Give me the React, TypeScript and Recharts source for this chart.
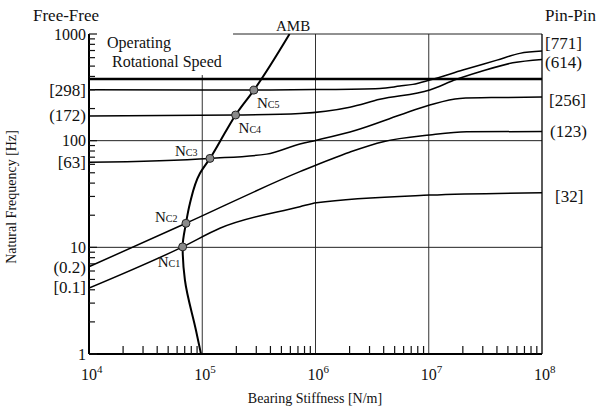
import React from 'react';
import { ComposedChart, Line, Scatter, XAxis, YAxis, ReferenceLine } from 'recharts';

const FONT = 'Liberation Serif, Times New Roman, serif';

// 곡선 데이터: 베어링 강성 [N/m] vs 고유진동수 [Hz]
const modeAStiff = [1e4, 1e5, 2.86e5, 1e6, 3.7e6, 5.56e6, 7.24e6, 1.02e7, 2e7, 4e7, 6.37e7, 1e8];
const modeAFreq = [300, 299, 298, 301, 309, 325, 337, 370, 459, 569, 658, 691];

const modeBStiff = [1e4, 1.97e5, 7.28e5, 2.01e6, 3.7e6, 1.02e7, 1.76e7, 2.83e7, 5.52e7, 1e8];
const modeBFreq = [170, 174, 180, 206, 244, 298, 376, 442, 537, 578];

const modeCStiff = [1e4, 1.17e5, 3.7e5, 7.28e5, 1.02e6, 2.31e6, 5.56e6, 1.02e7, 1.88e7, 4e7, 1e8];
const modeCFreq = [62.7, 68.2, 74.8, 93, 101, 126, 174, 216, 249, 254, 256];

const modeDStiff = [1e4, 7.18e4, 7.28e5, 2e6, 3.96e6, 1.02e7, 2.16e7, 1e8];
const modeDFreq = [6.58, 16.8, 51.2, 78, 97.7, 113, 121, 122];

const modeEStiff = [1e4, 6.71e4, 1.43e5, 7.28e5, 1.02e6, 1.02e7, 1e8];
const modeEFreq = [4.15, 10.1, 15.1, 24, 26.2, 30.9, 32.5];

// AMB 특성 곡선 (아래에서 위로)
const ambStiff = [9.75e4, 8.79e4, 7.03e4, 6.71e4, 7.18e4, 7.78e4, 9.55e4, 1.17e5, 1.64e5, 1.97e5, 2.86e5, 5.9e5];
const ambFreq = [1, 1.68, 4.94, 10.1, 16.8, 25.8, 49.4, 68.2, 126, 174, 298, 1000];

// 위험속도 교점
const ncNames = ['C1', 'C2', 'C3', 'C4', 'C5'];
const ncStiff = [6.71e4, 7.18e4, 1.17e5, 1.97e5, 2.86e5];
const ncFreq = [10.1, 16.8, 68.2, 174, 298];

const operatingSpeed = 378;

const xMajor = [1e4, 1e5, 1e6, 1e7, 1e8];
const xExp = [4, 5, 6, 7, 8];
const yMajor = [1, 10, 100, 1000];
const mult = [2, 3, 4, 5, 6, 7, 8, 9];

const leftNoteValues = [298, 172, 63, 6.5, 4.2];
const leftNoteTexts = ['[298]', '(172)', '[63]', '(0.2)', '[0.1]'];
const rightNoteValues = [771, 614, 256, 123, 32];
const rightNoteTexts = ['[771]', '(614)', '[256]', '(123)', '[32]'];

const pts = (xs: number[], ys: number[]) => xs.map((x, i) => ({ x, y: ys[i] }));

const xMinor = xMajor.slice(0, -1).flatMap((d) => mult.map((m) => m * d));
const yMinor = yMajor.slice(0, -1).flatMap((d) => mult.map((m) => m * d));

const txt = { fontFamily: FONT, fill: '#111' };

const LeftTick = (props: any) => {
  const { x, y, payload } = props;
  const v = payload.value;
  const ni = leftNoteValues.indexOf(v);
  if (ni >= 0) {
    return (
      <text x={x - 3} y={y} dy="0.35em" textAnchor="end" fontSize={17} style={txt}>
        {leftNoteTexts[ni]}
      </text>
    );
  }
  if (yMajor.includes(v)) {
    return (
      <g>
        <line x1={x} x2={x + 8} y1={y} y2={y} stroke="#111" strokeWidth={1.2} />
        <text x={x - 3} y={y} dy="0.35em" textAnchor="end" fontSize={16} style={txt}>
          {v}
        </text>
      </g>
    );
  }
  return <line x1={x} x2={x + 6} y1={y} y2={y} stroke="#111" strokeWidth={1.2} />;
};

const RightTick = (props: any) => {
  const { x, y, payload } = props;
  const i = rightNoteValues.indexOf(payload.value);
  const nudge = [-3, 5, 3, 0, 3][i] || 0;
  const shift = [3, 3, 7, 8, 13][i] || 0;
  return (
    <text x={x + shift} y={y + nudge} dy="0.35em" textAnchor="start" fontSize={17} style={txt}>
      {rightNoteTexts[i]}
    </text>
  );
};

const BottomTick = (props: any) => {
  const { x, y, payload } = props;
  const v = payload.value;
  const mi = xMajor.indexOf(v);
  if (mi >= 0) {
    return (
      <text x={x - 8} y={y + 26} fontSize={16} style={txt}>
        10<tspan fontSize={11} dy={-7}>{xExp[mi]}</tspan>
      </text>
    );
  }
  return <line x1={x} x2={x} y1={y} y2={y - 8} stroke="#111" strokeWidth={1.2} />;
};

const NcShape = (props: any) => {
  const { cx, cy, payload } = props;
  const i = ncNames.indexOf(payload.name);
  // 라벨 위치 (점 기준)
  const lab = [
    { dx: -25, dy: 20 },
    { dx: -31, dy: -1 },
    { dx: -35, dy: -2 },
    { dx: 3, dy: 18 },
    { dx: 3, dy: 18 },
  ][i];
  return (
    <g>
      <circle cx={cx} cy={cy} r={4} fill="#8a8a8a" stroke="#222" strokeWidth={1} />
      <text x={cx + lab.dx} y={cy + lab.dy} fontSize={15} style={txt}>
        N<tspan fontSize={10}>{payload.name}</tspan>
      </text>
    </g>
  );
};

const line = (data: { x: number; y: number }[], w = 1.5, type: any = 'monotone') => (
  <Line
    data={data}
    dataKey="y"
    type={type}
    stroke="#000"
    strokeWidth={w}
    dot={false}
    activeDot={false}
    isAnimationActive={false}
  />
);

export default function App() {
  const ncData = ncNames.map((name, i) => ({ name, x: ncStiff[i], y: ncFreq[i] }));
  return (
    <div style={{ position: 'absolute', left: 0, top: 0, width: 603, height: 411, background: '#fff', fontFamily: FONT }}>
      <ComposedChart width={603} height={411} margin={{ top: 34, right: 0, bottom: 0, left: 0 }}>
        <XAxis
          dataKey="x"
          type="number"
          scale="log"
          domain={[1e4, 1e8]}
          allowDataOverflow
          ticks={[...xMajor, ...xMinor]}
          interval={0}
          tick={<BottomTick />}
          tickLine={false}
          tickSize={0}
          tickMargin={0}
          height={57}
          axisLine={{ stroke: '#000', strokeWidth: 2 }}
        />
        <YAxis
          dataKey="y"
          type="number"
          scale="log"
          domain={[1, 1000]}
          allowDataOverflow
          ticks={[...yMajor, ...yMinor, ...leftNoteValues]}
          interval={0}
          tick={<LeftTick />}
          tickLine={false}
          tickSize={0}
          tickMargin={0}
          width={89}
          axisLine={{ stroke: '#000', strokeWidth: 2 }}
        />
        <YAxis
          yAxisId="r"
          orientation="right"
          type="number"
          scale="log"
          domain={[1, 1000]}
          allowDataOverflow
          ticks={rightNoteValues}
          interval={0}
          tick={<RightTick />}
          tickLine={false}
          tickSize={0}
          tickMargin={0}
          width={61}
          axisLine={{ stroke: '#000', strokeWidth: 1.3 }}
        />
        <ReferenceLine segment={[{ x: 1e5, y: 1 }, { x: 1e5, y: 412 }]} stroke="#333" strokeWidth={1} />
        <ReferenceLine x={1e6} stroke="#333" strokeWidth={1} />
        <ReferenceLine x={1e7} stroke="#333" strokeWidth={1} />
        <ReferenceLine y={10} stroke="#222" strokeWidth={1} />
        <ReferenceLine y={100} stroke="#222" strokeWidth={1} />
        <ReferenceLine segment={[{ x: 1.87e5, y: 1000 }, { x: 1e8, y: 1000 }]} stroke="#222" strokeWidth={1} />
        <ReferenceLine y={operatingSpeed} stroke="#000" strokeWidth={2.5} />
        {line(pts(modeAStiff, modeAFreq))}
        {line(pts(modeBStiff, modeBFreq))}
        {line(pts(modeCStiff, modeCFreq))}
        {line(pts(modeDStiff, modeDFreq))}
        {line(pts(modeEStiff, modeEFreq))}
        {line(pts(ambStiff, ambFreq), 2, 'monotoneY')}
        <Scatter data={ncData} dataKey="y" shape={<NcShape />} isAnimationActive={false} />
        <text x={33} y={21} fontSize={17} style={txt}>Free-Free</text>
        <text x={545} y={21} fontSize={17} style={txt}>Pin-Pin</text>
        <text x={276} y={31} fontSize={15} style={txt}>AMB</text>
        <text x={107} y={48} fontSize={16} style={txt}>Operating</text>
        <text x={112} y={67} fontSize={16} style={txt}>Rotational Speed</text>
        <text x={315} y={403} textAnchor="middle" fontSize={14} style={txt}>
          Bearing Stiffness [N/m]
        </text>
        <text x={16} y={197} textAnchor="middle" fontSize={14} style={txt} transform="rotate(-90 16 197)">
          Natural Frequency [Hz]
        </text>
      </ComposedChart>
    </div>
  );
}
